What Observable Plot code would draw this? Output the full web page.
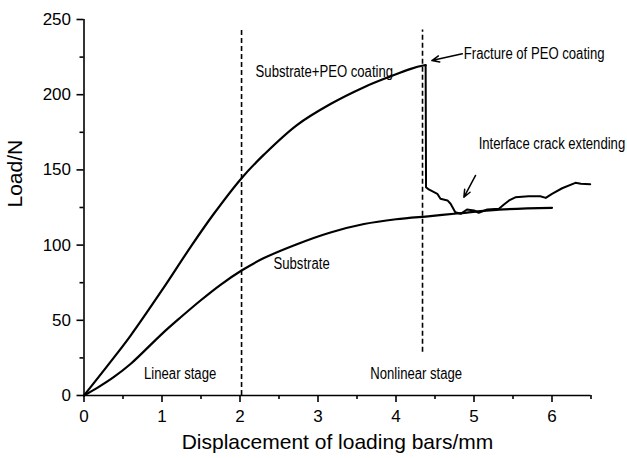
<!DOCTYPE html>
<html><head><meta charset="utf-8">
<script src="https://cdn.jsdelivr.net/npm/d3@7"></script>
<script src="https://cdn.jsdelivr.net/npm/@observablehq/plot@0.6"></script>
<style>body{margin:0;background:#fff} svg{display:block}</style>
</head><body><div id="chart"></div>
<script>
// Substrate curve (displacement mm, load N)
const substrateX = [0, 0.17, 0.38, 0.6, 1.0, 1.24, 1.49, 1.75, 2.02, 2.3, 2.73, 3.16, 3.59, 4.0, 4.44, 4.78, 5.32, 6.0];
const substrateY = [0, 5.1, 12.2, 21.1, 41, 52, 63, 73.6, 83.1, 91.2, 100.6, 108.4, 114.0, 117.2, 119.3, 121.0, 123.6, 124.8];
// Substrate + PEO coating curve (rise up to fracture, then post-fracture)
const peoX = [0, 0.38, 0.6, 1.0, 1.37, 1.66, 2.02, 2.31, 2.73, 3.16, 3.59, 3.93, 4.19, 4.35, 4.38, 4.385, 4.42, 4.53, 4.57, 4.66, 4.70, 4.76, 4.83, 4.91, 5.0, 5.06, 5.17, 5.32, 5.38, 5.45, 5.53, 5.70, 5.85, 5.92, 6.0, 6.13, 6.30, 6.37, 6.49];
const peoY = [0, 25, 40, 70, 99, 120.5, 144.5, 160.3, 179.8, 193.8, 205, 212.2, 217.2, 219.4, 219.6, 138.5, 137, 134.1, 130.8, 129.7, 127.5, 121.9, 120.8, 123.7, 123, 121.5, 123.7, 124.1, 126.8, 129.7, 131.8, 132.5, 132.5, 131.4, 134.1, 137.8, 141.4, 140.8, 140.5];
const peoPeakIndex = 14;
// Stage divider lines
const stageX = [2.02, 4.34];
const stageY1 = [0, 28.8];
const stageY2 = [243, 243];
// Annotations
const noteText = ["Substrate+PEO coating", "Substrate", "Linear stage", "Nonlinear stage", "Fracture of PEO coating", "Interface crack extending"];
const noteX = [2.2, 2.43, 0.77, 3.67, 4.87, 5.06];
const noteY = [215, 87.6, 14.4, 14.4, 227.2, 167.4];
// Arrows
const arrowX1 = [4.85, 5.02];
const arrowY1 = [227.2, 146.3];
const arrowX2 = [4.46, 4.87];
const arrowY2 = [222.7, 131.8];
// Ticks and titles
const xMajor = [0, 1, 2, 3, 4, 5, 6];
const xMinor = [0.5, 1.5, 2.5, 3.5, 4.5, 5.5, 6.5];
const yMajor = [0, 50, 100, 150, 200, 250];
const yMinor = [25, 75, 125, 175, 225];
const xTitle = "Displacement of loading bars/mm";
const yTitle = "Load/N";

const substrate = substrateX.map((x, i) => ({x, y: substrateY[i]}));
const peo = peoX.map((x, i) => ({x, y: peoY[i]}));
const stages = stageX.map((x, i) => ({x, y1: stageY1[i], y2: stageY2[i]}));
const notes = noteText.map((t, i) => ({t, x: noteX[i], y: noteY[i]}));
const arrows = arrowX1.map((x1, i) => ({x1, y1: arrowY1[i], x2: arrowX2[i], y2: arrowY2[i]}));

const chart = Plot.plot({
  width: 627, height: 458,
  marginLeft: 83.5, marginRight: 36.5, marginTop: 19, marginBottom: 63,
  style: {fontFamily: "'Liberation Sans', Arial, sans-serif", background: "#fff", color: "#000"},
  x: {domain: [0, 6.5], label: null},
  y: {domain: [0, 250], label: null},
  marks: [
    Plot.ruleX(stages, {x: "x", y1: "y1", y2: "y2", stroke: "#000", strokeWidth: 1.6, strokeDasharray: "5,3"}),
    Plot.line(substrate, {x: "x", y: "y", stroke: "#000", strokeWidth: 2.2, curve: "catmull-rom"}),
    Plot.line(peo.slice(0, peoPeakIndex + 1), {x: "x", y: "y", stroke: "#000", strokeWidth: 2.2, curve: "catmull-rom"}),
    Plot.line(peo.slice(peoPeakIndex), {x: "x", y: "y", stroke: "#000", strokeWidth: 2, strokeLinejoin: "round"}),
    Plot.ruleY([0], {stroke: "#000", strokeWidth: 1.6}),
    Plot.ruleX([0], {stroke: "#000", strokeWidth: 1.6}),
    Plot.axisX({ticks: xMajor, tickSize: 7, tickPadding: 7, fontSize: 17, label: null, strokeWidth: 1.6, tickFormat: d => d}),
    Plot.axisX({ticks: xMinor, tickSize: 4, fill: "none", label: null, strokeWidth: 1.6}),
    Plot.axisY({ticks: yMajor, tickSize: 7, tickPadding: 6, fontSize: 17, label: null, strokeWidth: 1.6, tickFormat: d => d}),
    Plot.axisY({ticks: yMinor, tickSize: 4, fill: "none", label: null, strokeWidth: 1.6}),
    Plot.text([xTitle], {text: d => d, frameAnchor: "bottom", dy: 53, fontSize: 21}),
    Plot.text([yTitle], {text: d => d, frameAnchor: "left", dx: -68.5, rotate: -90, fontSize: 21}),
    Plot.text(notes, {x: "x", y: "y", text: "t", textAnchor: "start", fontSize: 16}),
    Plot.arrow(arrows, {x1: "x1", y1: "y1", x2: "x2", y2: "y2", stroke: "#000", strokeWidth: 1.5, headLength: 8, headAngle: 45})
  ]
});
// Condense annotation lettering (the reference uses a narrow face)
chart.querySelectorAll("text").forEach(el => {
  if (noteText.includes(el.textContent)) {
    const t = el.getAttribute("transform") || "";
    el.setAttribute("transform", t + " scale(0.82,1)");
  }
});
document.getElementById("chart").appendChild(chart);
</script>
</body></html>
